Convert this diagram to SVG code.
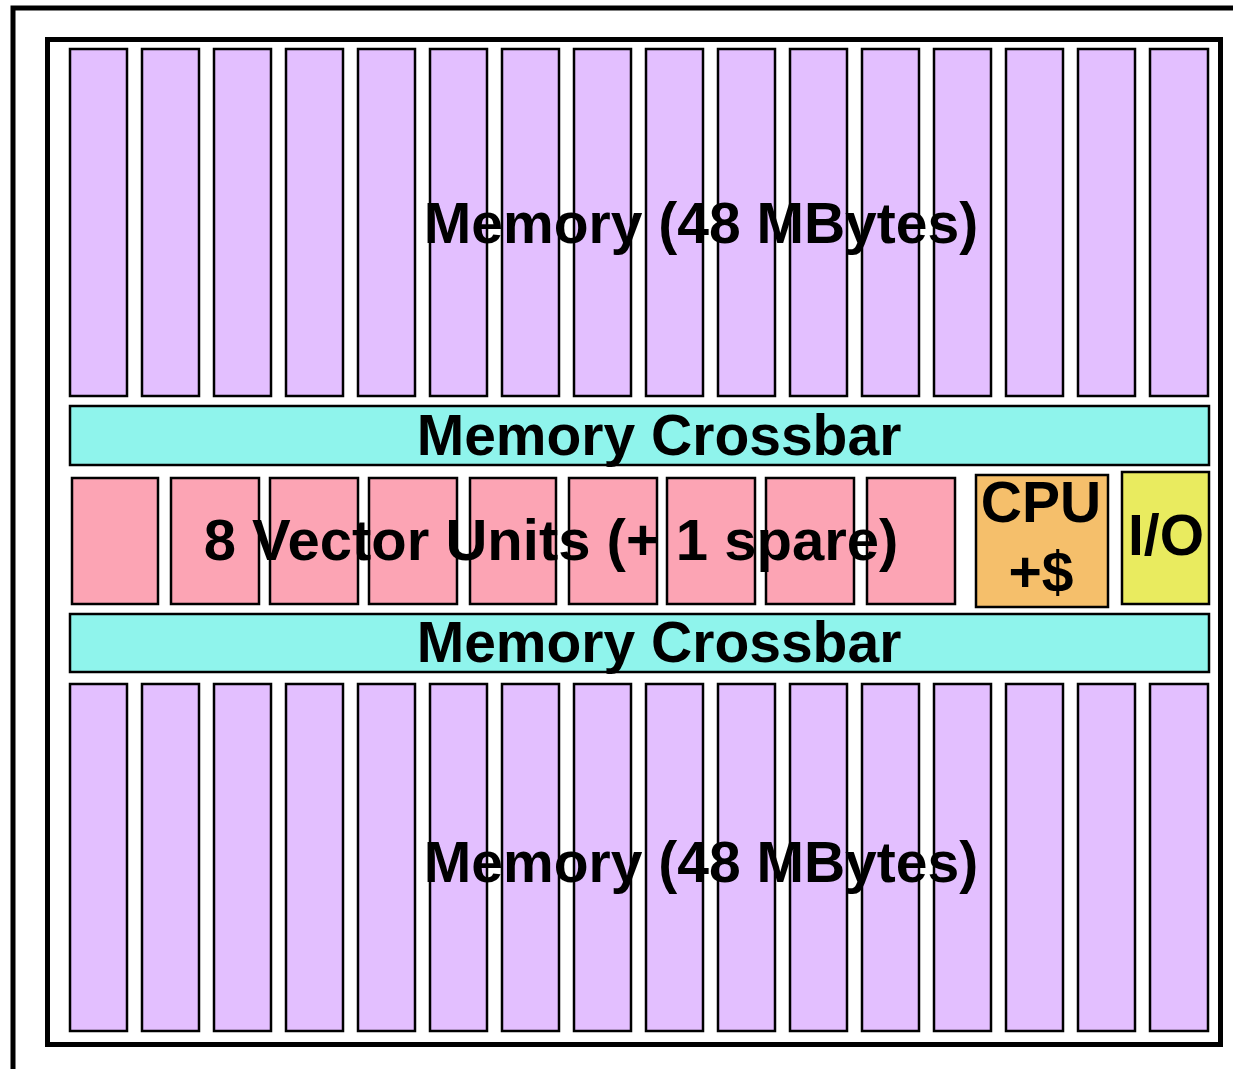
<svg xmlns="http://www.w3.org/2000/svg" width="1233" height="1069" viewBox="0 0 1233 1069">
<style>
.frame{fill:none;stroke:#000;stroke-width:5}
.mem{fill:#E3BFFF;stroke:#000;stroke-width:2.5}
.xbar{fill:#8FF4EC;stroke:#000;stroke-width:2.5}
.vu{fill:#FCA4B4;stroke:#000;stroke-width:2.5}
.cpu{fill:#F5BF6B;stroke:#000;stroke-width:2.5}
.io{fill:#E9EB5F;stroke:#000;stroke-width:2.5}
text{font-family:"Liberation Sans",Arial,sans-serif;font-weight:bold;font-size:57px;fill:#000;text-anchor:middle}
</style>
<rect class="frame" x="13" y="8" width="1240" height="1080"/>
<rect class="frame" x="47.5" y="39.5" width="1173" height="1005"/>
<g id="memory-top">
<rect class="mem" x="70" y="49" width="57" height="347"/>
<rect class="mem" x="142" y="49" width="57" height="347"/>
<rect class="mem" x="214" y="49" width="57" height="347"/>
<rect class="mem" x="286" y="49" width="57" height="347"/>
<rect class="mem" x="358" y="49" width="57" height="347"/>
<rect class="mem" x="430" y="49" width="57" height="347"/>
<rect class="mem" x="502" y="49" width="57" height="347"/>
<rect class="mem" x="574" y="49" width="57" height="347"/>
<rect class="mem" x="646" y="49" width="57" height="347"/>
<rect class="mem" x="718" y="49" width="57" height="347"/>
<rect class="mem" x="790" y="49" width="57" height="347"/>
<rect class="mem" x="862" y="49" width="57" height="347"/>
<rect class="mem" x="934" y="49" width="57" height="347"/>
<rect class="mem" x="1006" y="49" width="57" height="347"/>
<rect class="mem" x="1078" y="49" width="57" height="347"/>
<rect class="mem" x="1150" y="49" width="58" height="347"/>
<text x="701" y="243">Memory (48 MBytes)</text>
</g>
<g id="crossbar-top">
<rect class="xbar" x="70" y="406" width="1139" height="59"/>
<text x="659" y="455">Memory Crossbar</text>
</g>
<g id="vector-units">
<rect class="vu" x="72" y="478" width="86" height="126"/>
<rect class="vu" x="171" y="478" width="88" height="126"/>
<rect class="vu" x="270" y="478" width="88" height="126"/>
<rect class="vu" x="369" y="478" width="88" height="126"/>
<rect class="vu" x="470" y="478" width="86" height="126"/>
<rect class="vu" x="569" y="478" width="88" height="126"/>
<rect class="vu" x="667" y="478" width="88" height="126"/>
<rect class="vu" x="766" y="478" width="88" height="126"/>
<rect class="vu" x="867" y="478" width="88" height="126"/>
<text x="551" y="560" style="font-size:58px">8 Vector Units (+ 1 spare)</text>
</g>
<g id="cpu">
<rect class="cpu" x="976" y="475" width="132" height="132"/>
<text x="1041" y="522">CPU</text>
<text x="1041" y="592">+$</text>
</g>
<g id="io">
<rect class="io" x="1122" y="472" width="87" height="132"/>
<text x="1166" y="555">I/O</text>
</g>
<g id="crossbar-bottom">
<rect class="xbar" x="70" y="614" width="1139" height="58"/>
<text x="659" y="662">Memory Crossbar</text>
</g>
<g id="memory-bottom">
<rect class="mem" x="70" y="684" width="57" height="347"/>
<rect class="mem" x="142" y="684" width="57" height="347"/>
<rect class="mem" x="214" y="684" width="57" height="347"/>
<rect class="mem" x="286" y="684" width="57" height="347"/>
<rect class="mem" x="358" y="684" width="57" height="347"/>
<rect class="mem" x="430" y="684" width="57" height="347"/>
<rect class="mem" x="502" y="684" width="57" height="347"/>
<rect class="mem" x="574" y="684" width="57" height="347"/>
<rect class="mem" x="646" y="684" width="57" height="347"/>
<rect class="mem" x="718" y="684" width="57" height="347"/>
<rect class="mem" x="790" y="684" width="57" height="347"/>
<rect class="mem" x="862" y="684" width="57" height="347"/>
<rect class="mem" x="934" y="684" width="57" height="347"/>
<rect class="mem" x="1006" y="684" width="57" height="347"/>
<rect class="mem" x="1078" y="684" width="57" height="347"/>
<rect class="mem" x="1150" y="684" width="58" height="347"/>
<text x="701" y="882">Memory (48 MBytes)</text>
</g>
<g id="connectors"></g>
</svg>
